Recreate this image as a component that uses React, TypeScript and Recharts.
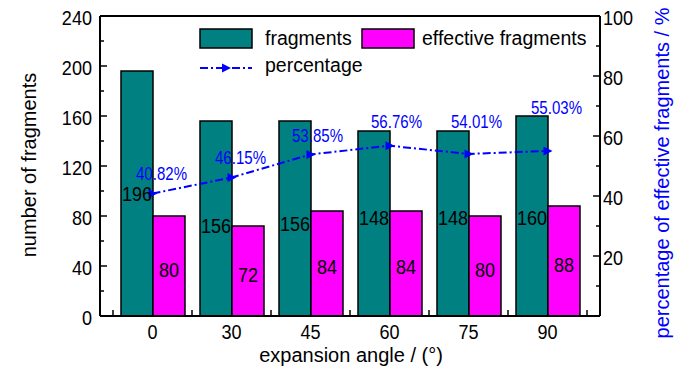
import { ComposedChart, Bar, Line, XAxis, YAxis, Legend, LabelList, ReferenceLine } from 'recharts';

const angles = ['0', '30', '45', '60', '75', '90'];
const fragments = [196, 156, 156, 148, 148, 160];
const effectiveFragments = [80, 72, 84, 84, 80, 88];
const percentage = [40.82, 46.15, 53.85, 56.76, 54.01, 55.03];
const leftTicks = [0, 20, 40, 60, 80, 100, 120, 140, 160, 180, 200, 220, 240];
const rightTicks = [10, 20, 30, 40, 50, 60, 70, 80, 90, 100];

const data = angles.map((angle, i) => ({
    angle,
    fragments: fragments[i],
    effective: effectiveFragments[i],
    percentage: percentage[i],
}));

// hand placement of the annotations, as in the original figure
const fragLabelDrop = [122, 104, 102, 86, 86, 101];
const pctLabelShift = [[9, -20], [9, -20], [7, -19], [7, -24], [8, -32], [9, -43]];

const W = 700;
const H = 374;
const AXIS_W = 100;
const X_PAD = 13;
const PLOT_W = W - 2 * AXIS_W;
const BAND = (PLOT_W - 2 * X_PAD) / angles.length;

const FONT = '"Liberation Sans", Arial, sans-serif';
const TEAL = '#008080';
const MAGENTA = '#FF00FF';
const BLUE = '#0000FF';
// numbers in the original are set in a narrow face
const NARROW = 0.86;

function NumText({ x, y, anchor, size, fill, children }: any) {
    return (
        <text
            x={0}
            y={0}
            transform={`translate(${x},${y}) scale(${NARROW},1)`}
            textAnchor={anchor}
            fontSize={size}
            fill={fill}
            fontFamily={FONT}
        >
            {children}
        </text>
    );
}

function LeftTick(props: any) {
    const { x, y, payload } = props;
    const v = payload.value;
    const major = v % 40 === 0;
    const ax = x + 8;
    return (
        <g>
            <line x1={ax} x2={ax + (major ? 7 : 4)} y1={y} y2={y} stroke="#000" strokeWidth={1.5} />
            {major && <NumText x={x} y={y + 8.5} anchor="end" size={21} fill="#000">{v}</NumText>}
        </g>
    );
}

function RightTick(props: any) {
    const { x, y, payload } = props;
    const v = payload.value;
    const major = v % 20 === 0;
    const ax = x - 3;
    return (
        <g>
            <line x1={ax} x2={ax - (major ? 7 : 4)} y1={y} y2={y} stroke="#000" strokeWidth={1.5} />
            {major && <NumText x={x} y={y + 8.5} anchor="start" size={21} fill="#000">{v}</NumText>}
        </g>
    );
}

function BottomTick(props: any) {
    const { x, y, payload, index } = props;
    const ay = y - 9;
    return (
        <g>
            <line x1={x - BAND / 2} x2={x - BAND / 2} y1={ay} y2={ay - 6} stroke="#000" strokeWidth={1.5} />
            {index === angles.length - 1 && (
                <line x1={x + BAND / 2} x2={x + BAND / 2} y1={ay} y2={ay - 6} stroke="#000" strokeWidth={1.5} />
            )}
            <NumText x={x} y={y + 14} anchor="middle" size={21} fill="#000">{payload.value}</NumText>
        </g>
    );
}

function TriangleDot(props: any) {
    const { cx, cy } = props;
    if (cx == null || cy == null) return null;
    return <polygon points={`${cx - 4},${cy - 4.5} ${cx + 5},${cy} ${cx - 4},${cy + 4.5}`} fill={BLUE} />;
}

function pick(props: any, key: string) {
    if (props[key] != null) return Number(props[key]);
    if (props.viewBox && props.viewBox[key] != null) return Number(props.viewBox[key]);
    return 0;
}

function FragLabel(props: any) {
    const x = pick(props, 'x');
    const y = pick(props, 'y');
    const w = pick(props, 'width');
    const i = props.index ?? 0;
    return (
        <NumText x={x + w / 2} y={y + fragLabelDrop[i] + 7.5} anchor="middle" size={21} fill="#000">
            {props.value}
        </NumText>
    );
}

function EffLabel(props: any) {
    const x = pick(props, 'x');
    const y = pick(props, 'y');
    const w = pick(props, 'width');
    const h = pick(props, 'height');
    return (
        <NumText x={x + w / 2} y={y + h / 2 + 3 + 7.5} anchor="middle" size={21} fill="#000">
            {props.value}
        </NumText>
    );
}

function PctLabel(props: any) {
    const x = pick(props, 'x');
    const y = pick(props, 'y');
    const i = props.index ?? 0;
    const [dx, dy] = pctLabelShift[i];
    return (
        <NumText x={x + dx} y={y + dy + 6.3} anchor="middle" size={17.5} fill={BLUE}>
            {Number(props.value).toFixed(2)}%
        </NumText>
    );
}

function LegendBox(props: any) {
    const payload = props.payload || [];
    const byKey = (k: string) => payload.find((p: any) => p.dataKey === k) || {};
    const frag = byKey('fragments');
    const eff = byKey('effective');
    const pct = byKey('percentage');
    return (
        <svg width={420} height={56} style={{ display: 'block', overflow: 'visible' }}>
            <rect x={2} y={3} width={52} height={19} fill={TEAL} stroke="#000" strokeWidth={1.5} />
            <text x={67} y={19} fontSize={19.5} fill="#000" fontFamily={FONT}>{frag.value ?? 'fragments'}</text>
            <rect x={164} y={3} width={52} height={19} fill={MAGENTA} stroke="#000" strokeWidth={1.5} />
            <text x={224} y={19} fontSize={19.5} fill="#000" fontFamily={FONT}>{eff.value ?? 'effective fragments'}</text>
            <line x1={2} x2={54} y1={42} y2={42} stroke={BLUE} strokeWidth={2} strokeDasharray="8 3 2 3" />
            <polygon points="24,37.5 33,42 24,46.5" fill={BLUE} />
            <text x={67} y={46} fontSize={19.5} fill="#000" fontFamily={FONT}>{pct.value ?? 'percentage'}</text>
        </svg>
    );
}

export default function App() {
    return (
        <div style={{ position: 'absolute', left: 0, top: 0, width: W, height: H, background: '#fff' }}>
            <ComposedChart
                width={W}
                height={H}
                data={data}
                margin={{ top: 16, right: 0, bottom: 0, left: 0 }}
                barCategoryGap={8}
                barGap={0}
            >
                <XAxis
                    dataKey="angle"
                    height={58}
                    padding={{ left: X_PAD, right: X_PAD }}
                    interval={0}
                    tickSize={0}
                    tickMargin={9}
                    tickLine={false}
                    axisLine={{ stroke: '#000', strokeWidth: 2 }}
                    tick={<BottomTick />}
                    label={{
                        content: (p: any) => {
                            const vb = p.viewBox || { x: AXIS_W, y: 316, width: PLOT_W, height: 58 };
                            return (
                                <text x={vb.x + vb.width / 2 + 1} y={vb.y + 46} textAnchor="middle" fontSize={20} fill="#000" fontFamily={FONT}>
                                    expansion angle / (°)
                                </text>
                            );
                        },
                    }}
                />
                <YAxis
                    yAxisId="left"
                    width={AXIS_W}
                    domain={[0, 240]}
                    ticks={leftTicks}
                    interval={0}
                    tickSize={0}
                    tickMargin={8}
                    tickLine={false}
                    axisLine={{ stroke: '#000', strokeWidth: 2 }}
                    tick={<LeftTick />}
                    label={{
                        content: (p: any) => {
                            const vb = p.viewBox || { x: 0, y: 16, width: AXIS_W, height: 300 };
                            const cx = vb.x + 36;
                            const cy = vb.y + vb.height / 2 - 1;
                            return (
                                <text x={cx} y={cy} transform={`rotate(-90 ${cx} ${cy})`} textAnchor="middle" fontSize={20} fill="#000" fontFamily={FONT}>
                                    number of fragments
                                </text>
                            );
                        },
                    }}
                />
                <YAxis
                    yAxisId="right"
                    orientation="right"
                    width={AXIS_W}
                    domain={[0, 100]}
                    ticks={rightTicks}
                    interval={0}
                    tickSize={0}
                    tickMargin={3}
                    tickLine={false}
                    axisLine={{ stroke: '#000', strokeWidth: 2 }}
                    tick={<RightTick />}
                    label={{
                        content: (p: any) => {
                            const vb = p.viewBox || { x: AXIS_W + PLOT_W, y: 16, width: AXIS_W, height: 300 };
                            const cx = vb.x + 69;
                            const cy = vb.y + vb.height / 2 + 7;
                            return (
                                <text x={cx} y={cy} transform={`rotate(-90 ${cx} ${cy})`} textAnchor="middle" fontSize={20} fill={BLUE} fontFamily={FONT}>
                                    percentage of effective fragments / %
                                </text>
                            );
                        },
                    }}
                />
                <ReferenceLine yAxisId="left" y={240} stroke="#000" strokeWidth={2} />
                <Legend
                    layout="horizontal"
                    verticalAlign="middle"
                    align="center"
                    wrapperStyle={{ top: 26, left: 198, width: 420, height: 56 }}
                    content={<LegendBox />}
                />
                <Bar
                    yAxisId="left"
                    dataKey="fragments"
                    name="fragments"
                    fill={TEAL}
                    stroke="#000"
                    strokeWidth={1.5}
                    isAnimationActive={false}
                >
                    <LabelList dataKey="fragments" content={<FragLabel />} />
                </Bar>
                <Bar
                    yAxisId="left"
                    dataKey="effective"
                    name="effective fragments"
                    fill={MAGENTA}
                    stroke="#000"
                    strokeWidth={1.5}
                    isAnimationActive={false}
                >
                    <LabelList dataKey="effective" content={<EffLabel />} />
                </Bar>
                <Line
                    yAxisId="right"
                    dataKey="percentage"
                    name="percentage"
                    type="linear"
                    stroke={BLUE}
                    strokeWidth={2}
                    strokeDasharray="8 3 2 3"
                    dot={<TriangleDot />}
                    activeDot={false}
                    isAnimationActive={false}
                >
                    <LabelList dataKey="percentage" content={<PctLabel />} />
                </Line>
            </ComposedChart>
        </div>
    );
}
